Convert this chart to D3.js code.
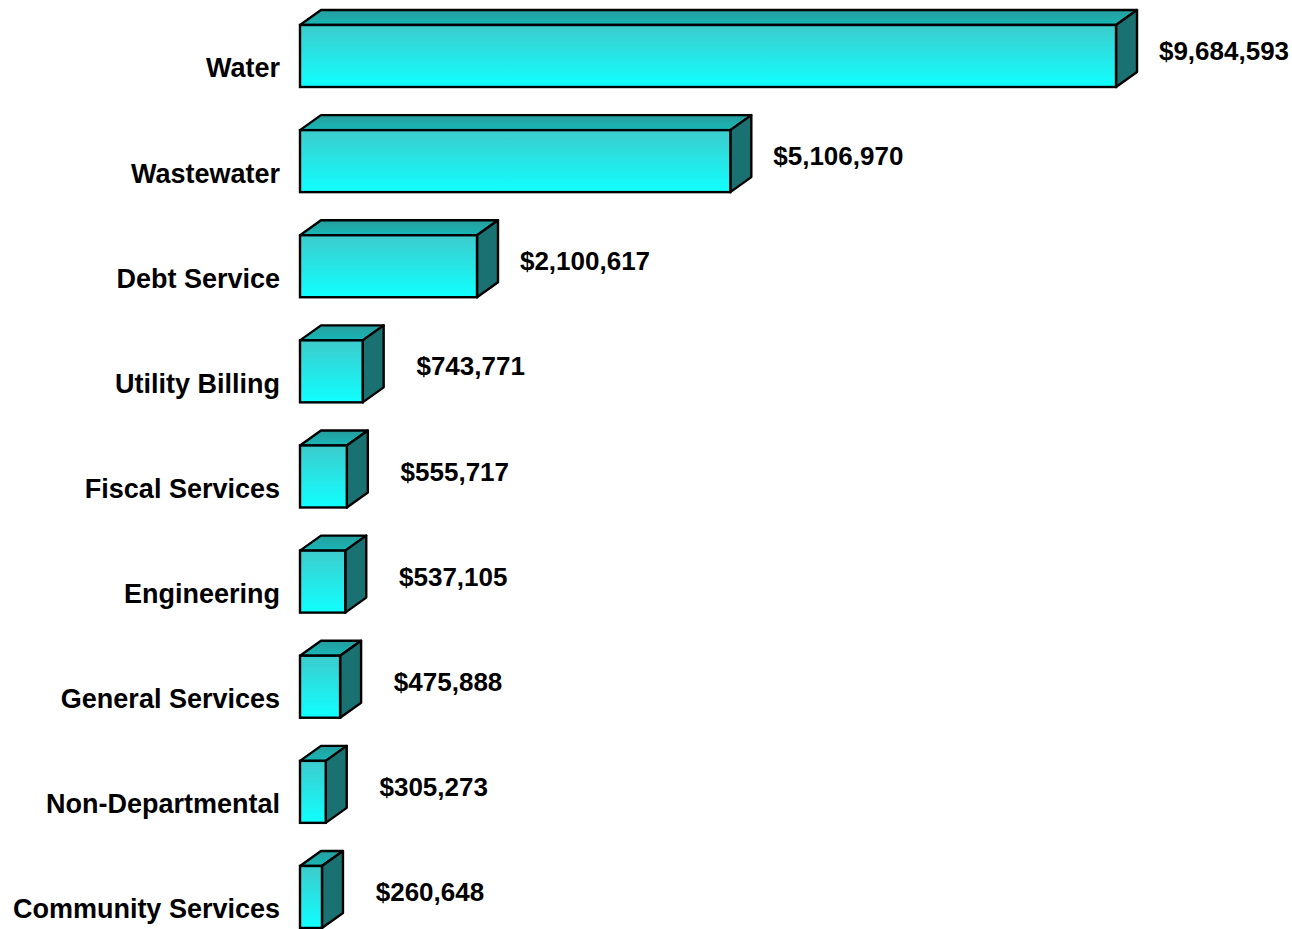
<!DOCTYPE html>
<html>
<head>
<meta charset="utf-8">
<script src="https://cdn.jsdelivr.net/npm/d3@7"></script>
<style>
  html, body { margin: 0; padding: 0; background: #fff; }
  svg { display: block; }
  text { font-family: "Liberation Sans", Arial, sans-serif; font-weight: bold; fill: #000; }
</style>
</head>
<body>
<svg id="chart" width="1292" height="929"></svg>
<script>
// Department budgets
const departments = [
  "Water", "Wastewater", "Debt Service", "Utility Billing", "Fiscal Services",
  "Engineering", "General Services", "Non-Departmental", "Community Services"
];
const budgets = [9684593, 5106970, 2100617, 743771, 555717, 537105, 475888, 305273, 260648];
const valueLabels = ["$9,684,593", "$5,106,970", "$2,100,617", "$743,771", "$555,717",
  "$537,105", "$475,888", "$305,273", "$260,648"];

const rows = departments.map((d, i) => ({ name: d, value: budgets[i], label: valueLabels[i] }));

const svg = d3.select("#chart");
const defs = svg.append("defs");

const front = defs.append("linearGradient").attr("id", "gFront")
  .attr("x1", 0).attr("y1", 0).attr("x2", 0).attr("y2", 1);
front.append("stop").attr("offset", "0%").attr("stop-color", "#3dcbcc");
front.append("stop").attr("offset", "100%").attr("stop-color", "#10ffff");

const topG = defs.append("linearGradient").attr("id", "gTop")
  .attr("x1", 0).attr("y1", 0).attr("x2", 0).attr("y2", 1);
topG.append("stop").attr("offset", "0%").attr("stop-color", "#279d9d");
topG.append("stop").attr("offset", "100%").attr("stop-color", "#17b7b7");

const x = d3.scaleLinear().domain([0, 10000000]).range([300, 1142.6]);
const y = d3.scaleBand().domain(departments).range([3.975, 949])
  .paddingInner(0.4102).paddingOuter(0.2);

// 3-D extrusion offsets
const dx = 21, dy = -15;

const g = svg.append("g");
const bars = g.selectAll("g.bar").data(rows).join("g").attr("class", "bar");

const strokeW = 2.4;

bars.append("path")
  .attr("d", d => {
    const x0 = x(0), x1 = x(d.value), y0 = y(d.name);
    return `M${x0},${y0} L${x0 + dx},${y0 + dy} L${x1 + dx},${y0 + dy} L${x1},${y0} Z`;
  })
  .attr("fill", "url(#gTop)").attr("stroke", "#000").attr("stroke-width", strokeW)
  .attr("stroke-linejoin", "round");

bars.append("path")
  .attr("d", d => {
    const x1 = x(d.value), y0 = y(d.name), y1 = y0 + y.bandwidth();
    return `M${x1},${y0} L${x1 + dx},${y0 + dy} L${x1 + dx},${y1 + dy} L${x1},${y1} Z`;
  })
  .attr("fill", "#1a7171").attr("stroke", "#000").attr("stroke-width", strokeW)
  .attr("stroke-linejoin", "round");

bars.append("rect")
  .attr("x", x(0))
  .attr("y", d => y(d.name))
  .attr("width", d => x(d.value) - x(0))
  .attr("height", y.bandwidth())
  .attr("fill", "url(#gFront)").attr("stroke", "#000").attr("stroke-width", strokeW);

// value labels
bars.append("text")
  .attr("x", d => x(d.value) + 108)
  .attr("y", d => y(d.name) + y.bandwidth() / 2 - 5)
  .attr("dy", "0.35em")
  .attr("text-anchor", "middle")
  .attr("font-size", 26)
  .text(d => d.label);

// category labels
bars.append("text")
  .attr("x", 280)
  .attr("y", d => y(d.name) + y.bandwidth() / 2 + 12)
  .attr("dy", "0.35em")
  .attr("text-anchor", "end")
  .attr("font-size", 27)
  .text(d => d.name);
</script>
</body>
</html>
